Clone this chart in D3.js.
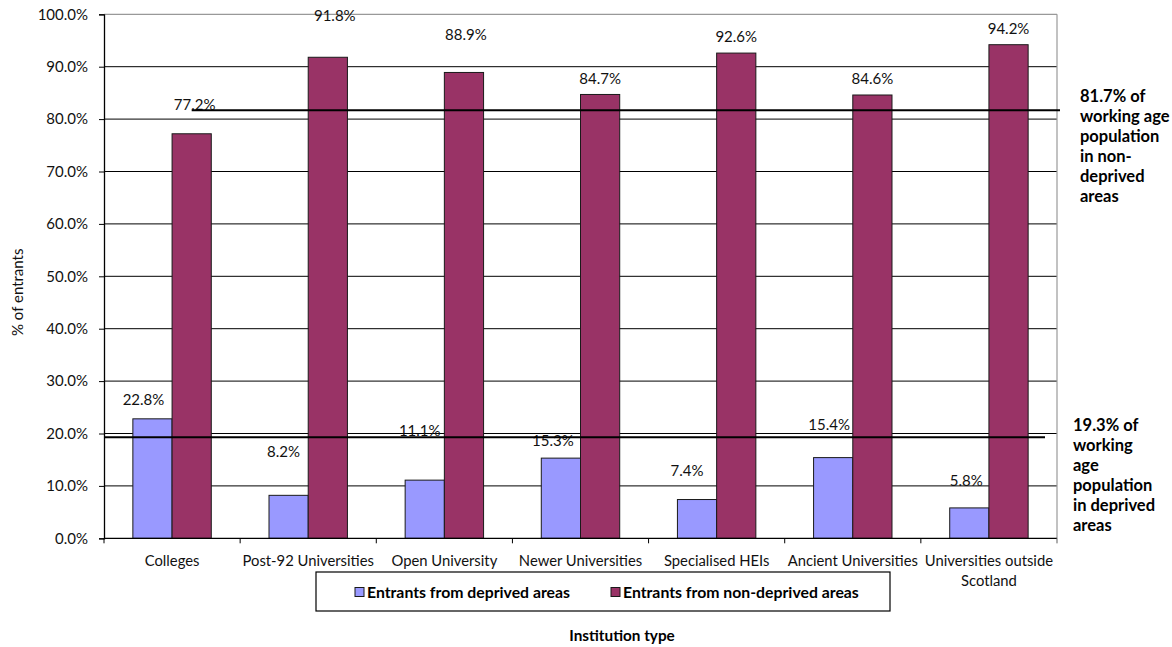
<!DOCTYPE html>
<html>
<head>
<meta charset="utf-8">
<script src="https://cdn.jsdelivr.net/npm/d3@7"></script>
<style>
  html, body { margin: 0; padding: 0; background: #fff; }
  svg { display: block; font-family: Lato, "Open Sans", sans-serif; }
</style>
</head>
<body>
<svg id="chart" width="1172" height="647"></svg>
<script>
// Institution types and entrant shares (%)
const categories = [
  "Colleges",
  "Post-92 Universities",
  "Open University",
  "Newer Universities",
  "Specialised HEIs",
  "Ancient Universities",
  "Universities outside Scotland"
];
const deprived    = [22.8, 8.2, 11.1, 15.3, 7.4, 15.4, 5.8];
const nonDeprived = [77.2, 91.8, 88.9, 84.7, 92.6, 84.6, 94.2];
const seriesNames = ["Entrants from deprived areas", "Entrants from non-deprived areas"];
const yTicks = [0, 10, 20, 30, 40, 50, 60, 70, 80, 90, 100];

// Working-age population shares used as reference lines
const popNonDeprived = 81.7;
const popDeprived = 19.3;
const popNonDeprivedNote = ["81.7% of", "working age", "population", "in non-", "deprived", "areas"];
const popDeprivedNote = ["19.3% of", "working", "age", "population", "in deprived", "areas"];

// Hand-placed value labels: [dx, dy] pixel nudges from the default spot above each bar
const deprivedLabelNudge    = [[-9, -3], [-5, -28], [-5, -34], [-8, -2], [-10, -13], [-4, -17], [-3, -11]];
const nonDeprivedLabelNudge = [[3, -13], [7, -26], [2, -22], [0, 0], [0, 0], [0, 0], [0, 0]];

const colors = { deprived: "#9999FF", nonDeprived: "#993366" };

const svg = d3.select("#chart");
const plot = { left: 104, right: 1057, top: 14.3, bottom: 538.3 };

const x0 = d3.scaleBand().domain(categories).range([plot.left, plot.right]);
const x1 = d3.scaleBand().domain(["deprived", "nonDeprived"])
  .range([0, x0.bandwidth()]).paddingInner(0).paddingOuter(0.736);
const y = d3.scaleLinear().domain([0, 100]).range([plot.bottom, plot.top]);

// Gridlines
svg.append("g").selectAll("line")
  .data(yTicks.filter(d => d > 0 && d < 100))
  .join("line")
  .attr("x1", plot.left).attr("x2", plot.right)
  .attr("y1", d => y(d)).attr("y2", d => y(d))
  .attr("stroke", "#000").attr("stroke-width", 1);

// Plot frame (top and right edges in grey)
svg.append("line").attr("x1", plot.left).attr("x2", plot.right)
  .attr("y1", y(100)).attr("y2", y(100)).attr("stroke", "#999").attr("stroke-width", 1.2);
svg.append("line").attr("x1", plot.right).attr("x2", plot.right)
  .attr("y1", y(100)).attr("y2", y(0) + 5).attr("stroke", "#999").attr("stroke-width", 1.2);

// Y axis
const yAxis = svg.append("g")
  .attr("transform", `translate(${plot.left},0)`)
  .call(d3.axisLeft(y).tickValues(yTicks).tickFormat(d => d.toFixed(1) + "%")
    .tickSize(5).tickPadding(11));
yAxis.select(".domain").attr("stroke", "#000").attr("stroke-width", 1.3);
yAxis.selectAll(".tick line").attr("stroke", "#000");
yAxis.selectAll("text").attr("font-size", 15).attr("fill", "#111")
  .attr("font-family", "Lato, sans-serif");

// Bars
const rows = categories.map((c, i) => ({
  category: c,
  values: [
    { key: "deprived", value: deprived[i], nudge: deprivedLabelNudge[i] },
    { key: "nonDeprived", value: nonDeprived[i], nudge: nonDeprivedLabelNudge[i] }
  ]
}));

const groups = svg.append("g").selectAll("g")
  .data(rows).join("g")
  .attr("transform", d => `translate(${x0(d.category)},0)`);

groups.selectAll("rect")
  .data(d => d.values).join("rect")
  .attr("x", d => x1(d.key))
  .attr("width", x1.bandwidth())
  .attr("y", d => y(d.value))
  .attr("height", d => y(0) - y(d.value))
  .attr("fill", d => colors[d.key])
  .attr("stroke", "#1a1a1a").attr("stroke-width", 1);

// X axis baseline and category boundary ticks
svg.append("line").attr("x1", plot.left).attr("x2", plot.right)
  .attr("y1", y(0)).attr("y2", y(0)).attr("stroke", "#000").attr("stroke-width", 1.3);
const bounds = categories.map(c => x0(c)).concat([plot.right]);
svg.append("g").selectAll("line").data(bounds).join("line")
  .attr("x1", d => d).attr("x2", d => d)
  .attr("y1", y(0)).attr("y2", y(0) + 5)
  .attr("stroke", (d, i) => i === bounds.length - 1 ? "#999" : "#000");

// Category labels (wrapped when wider than the band)
const xAxis = svg.append("g")
  .attr("transform", `translate(0,${y(0)})`)
  .call(d3.axisBottom(x0).tickSize(0).tickPadding(17));
xAxis.select(".domain").remove();
xAxis.selectAll("text")
  .attr("font-size", 14.8).attr("fill", "#111").attr("font-family", "Lato, sans-serif")
  .each(function (d) {
    const t = d3.select(this);
    if (this.getComputedTextLength() <= x0.bandwidth() + 2) return;
    const words = d.split(" ");
    const first = words.slice(0, -1).join(" ");
    const last = words[words.length - 1];
    const dy = t.attr("dy");
    t.text(null);
    t.append("tspan").attr("x", 0).attr("dy", dy).text(first);
    t.append("tspan").attr("x", 0).attr("dy", "1.38em").text(last);
  });

// Reference lines for working-age population shares
const topLineStart = x0(categories[0]) + x1("nonDeprived") + x1.bandwidth() / 2;
svg.append("line")
  .attr("x1", topLineStart).attr("x2", plot.right + 3)
  .attr("y1", y(popNonDeprived)).attr("y2", y(popNonDeprived))
  .attr("stroke", "#000").attr("stroke-width", 2);
svg.append("line")
  .attr("x1", plot.left).attr("x2", plot.right - 12)
  .attr("y1", y(popDeprived)).attr("y2", y(popDeprived))
  .attr("stroke", "#000").attr("stroke-width", 2);

// Value labels
groups.selectAll("text.value")
  .data(d => d.values).join("text")
  .attr("class", "value")
  .attr("x", d => x1(d.key) + x1.bandwidth() / 2 + d.nudge[0])
  .attr("y", d => y(d.value) - 16 + d.nudge[1])
  .attr("dy", "0.36em")
  .attr("text-anchor", "middle")
  .attr("font-size", 15).attr("fill", "#111")
  .text(d => d.value.toFixed(1) + "%");

// Notes beside the reference lines
function note(lines, x, yFirst) {
  svg.append("text")
    .attr("x", x).attr("y", yFirst)
    .attr("font-size", 16.5).attr("font-weight", "bold").attr("fill", "#000")
    .selectAll("tspan").data(lines).join("tspan")
    .attr("x", x).attr("dy", (d, i) => i === 0 ? "0.36em" : "20px")
    .text(d => d);
}
note(popNonDeprivedNote, 1080, 96);
note(popDeprivedNote, 1073, 425);

// Y axis title
svg.append("text")
  .attr("transform", `translate(18,${(y(0) + y(100)) / 2 + 16}) rotate(-90)`)
  .attr("text-anchor", "middle").attr("dy", "0.36em")
  .attr("font-size", 15).attr("fill", "#111")
  .text("% of entrants");

// Legend
const legend = svg.append("g");
legend.append("rect").attr("x", 316).attr("y", 572).attr("width", 574).attr("height", 39)
  .attr("fill", "#fff").attr("stroke", "#000").attr("stroke-width", 1.2);
const legendItems = [
  { name: seriesNames[0], color: colors.deprived, x: 355 },
  { name: seriesNames[1], color: colors.nonDeprived, x: 611 }
];
const li = legend.selectAll("g.item").data(legendItems).join("g").attr("class", "item")
  .attr("transform", d => `translate(${d.x},592)`);
li.append("rect").attr("x", 0).attr("y", -4.5).attr("width", 9).attr("height", 9)
  .attr("fill", d => d.color).attr("stroke", "#1a1a1a").attr("stroke-width", 1);
li.append("text").attr("x", 12).attr("dy", "0.36em")
  .attr("font-size", 15.8).attr("font-weight", "bold").attr("fill", "#000")
  .text(d => d.name);

// X axis title
svg.append("text")
  .attr("x", 622).attr("y", 635).attr("dy", "0.36em")
  .attr("text-anchor", "middle")
  .attr("font-size", 15.3).attr("font-weight", "bold").attr("fill", "#000")
  .text("Institution type");
</script>
</body>
</html>
